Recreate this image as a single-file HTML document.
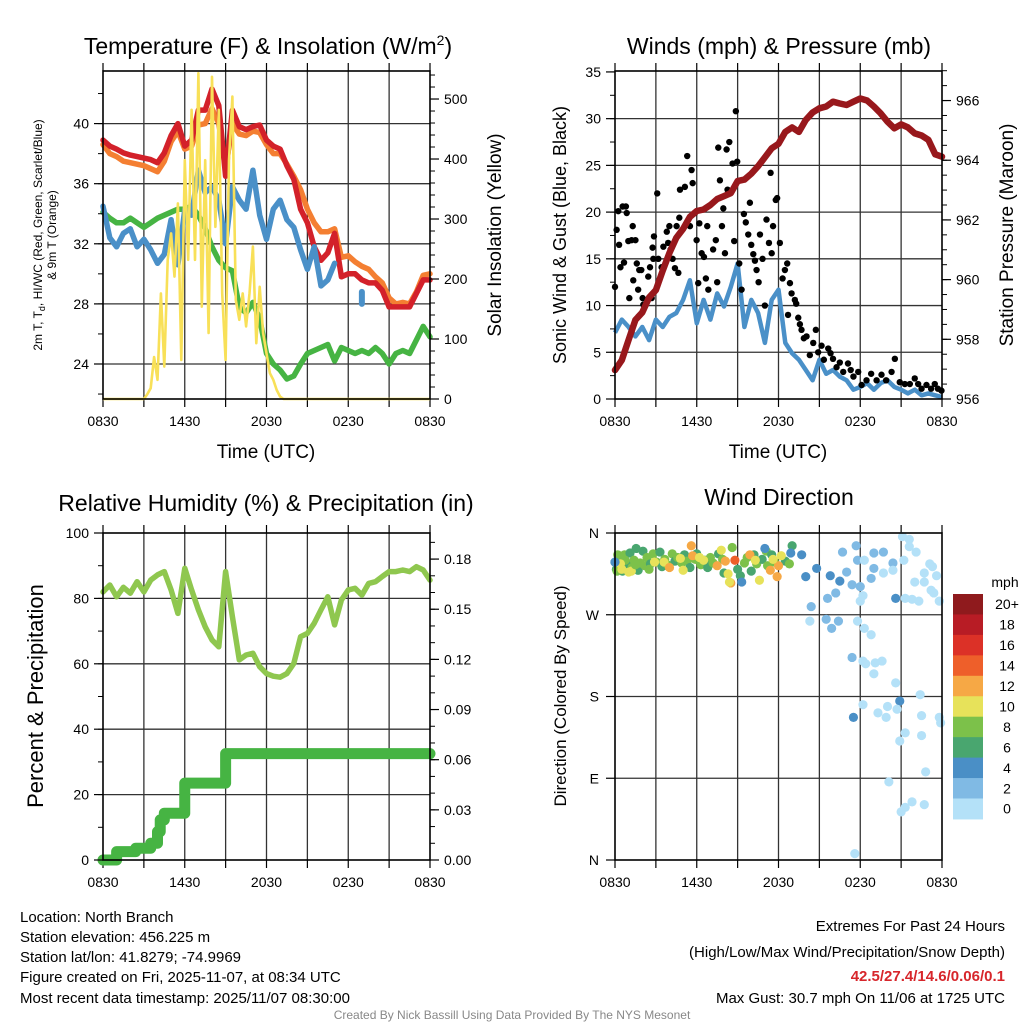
<!DOCTYPE html>
<html><head><meta charset="utf-8">
<style>
html,body{margin:0;padding:0;background:#fff;}
svg{display:block;font-family:"Liberation Sans",sans-serif;}
</style></head>
<body>
<svg id="chart" width="1024" height="1024" viewBox="0 0 1024 1024" xmlns="http://www.w3.org/2000/svg">
<rect width="1024" height="1024" fill="#fff"/>
<g id="layer"></g>
<text x="268" y="54" font-size="23" text-anchor="middle">Temperature (F) &amp; Insolation (W/m<tspan dy="-9" font-size="14">2</tspan><tspan dy="9">)</tspan></text>
<text x="779" y="54" font-size="23" text-anchor="middle">Winds (mph) &amp; Pressure (mb)</text>
<text x="266" y="511" font-size="23" text-anchor="middle">Relative Humidity (%) &amp; Precipitation (in)</text>
<text x="779" y="505" font-size="23" text-anchor="middle">Wind Direction</text>
<text transform="translate(42,235) rotate(-90)" font-size="12" text-anchor="middle">2m T, T<tspan dy="3" font-size="9">d</tspan><tspan dy="-3">, HI/WC (Red, Green, Scarlet/Blue)</tspan></text>
<text transform="translate(56,235) rotate(-90)" font-size="12" text-anchor="middle">&amp; 9m T (Orange)</text>
<text transform="translate(501,235) rotate(-90)" font-size="19" text-anchor="middle">Solar Insolation (Yellow)</text>
<text x="266" y="458" font-size="19" text-anchor="middle">Time (UTC)</text>
<text transform="translate(566,235) rotate(-90)" font-size="18" text-anchor="middle">Sonic Wind &amp; Gust (Blue, Black)</text>
<text transform="translate(1013,235) rotate(-90)" font-size="19" text-anchor="middle">Station Pressure (Maroon)</text>
<text x="778" y="458" font-size="19" text-anchor="middle">Time (UTC)</text>
<text transform="translate(43,696) rotate(-90)" font-size="22" text-anchor="middle">Percent &amp; Precipitation</text>
<text transform="translate(566,696) rotate(-90)" font-size="17" text-anchor="middle">Direction (Colored By Speed)</text>
<text x="1005" y="587" font-size="14" text-anchor="middle">mph</text>
<g font-size="15">
<text x="20" y="922">Location: North Branch</text>
<text x="20" y="942">Station elevation: 456.225 m</text>
<text x="20" y="962">Station lat/lon: 41.8279; -74.9969</text>
<text x="20" y="982">Figure created on Fri, 2025-11-07, at 08:34 UTC</text>
<text x="20" y="1003">Most recent data timestamp: 2025/11/07 08:30:00</text>
</g>
<g font-size="15" text-anchor="end">
<text x="1005" y="931">Extremes For Past 24 Hours</text>
<text x="1005" y="957">(High/Low/Max Wind/Precipitation/Snow Depth)</text>
<text x="1005" y="981" fill="#d7262b" font-weight="bold">42.5/27.4/14.6/0.06/0.1</text>
<text x="1005" y="1003">Max Gust: 30.7 mph On 11/06 at 1725 UTC</text>
</g>
<text x="512" y="1019" font-size="12" fill="#888" text-anchor="middle">Created By Nick Bassill Using Data Provided By The NYS Mesonet</text>
</svg>
<script>
// ---- shared time ticks ----
const timeTickHours = [0,6,12,18,24];
const timeTickLabels = ["0830","1430","2030","0230","0830"];
const halfHours = [0,0.5,1,1.5,2,2.5,3,3.5,4,4.5,5,5.5,6,6.5,7,7.5,8,8.5,9,9.5,10,10.5,11,11.5,12,12.5,13,13.5,14,14.5,15,15.5,16,16.5,17,17.5,18,18.5,19,19.5,20,20.5,21,21.5,22,22.5,23,23.5,24];
// ---- panel 1 ----
const tempTicks = [24,28,32,36,40];
const solarTicks = [0,100,200,300,400,500];
const temp2m = [38.9,38.5,38.3,38.05,37.9,37.8,37.7,37.6,37.4,38.05,39.2,40.0,38.5,38.9,40.9,40.9,42.3,41.2,36.5,40.9,39.8,39.6,39.8,39.9,38.9,38.5,38.3,37.2,36.3,34.3,33.4,31.8,30.9,31.4,32.7,29.8,30.0,30.0,29.6,29.4,29.4,28.9,27.8,27.8,27.8,27.8,28.7,29.6,29.6];
const temp9m = [38.6,38.0,37.8,37.5,37.4,37.3,37.2,37.0,36.8,37.5,38.8,39.5,38.3,38.5,39.9,40.0,41.0,40.0,37.0,40.0,39.3,39.2,39.5,39.4,38.6,38.0,38.0,37.3,36.5,35.6,34.3,33.4,32.8,32.8,33.0,31.1,31.2,30.8,30.5,30.3,29.8,29.4,28.4,28.0,28.1,28.0,28.8,29.9,30.0];
const windChill = [34.5,32.4,31.8,32.7,33.0,31.8,32.3,31.6,30.7,31.3,33.6,30.6,34.3,33.9,36.9,35.4,35.8,34.9,32.0,35.8,34.9,34.3,36.9,33.9,32.3,34.3,34.9,33.6,33.1,31.6,30.3,31.8,29.2,29.6,30.7,null,null,null,28.4,null,null,null,null,null,null,null,null,null,null];
const dewPoint = [34.1,33.7,33.4,33.4,33.7,33.4,33.1,33.4,33.7,33.9,34.1,34.3,34.3,34.5,33.9,33.0,31.8,30.9,30.4,30.2,27.8,27.4,28.1,27.0,24.7,24.0,23.6,23.0,23.2,24.0,24.7,24.9,25.1,25.3,24.2,25.1,24.9,24.7,24.9,24.7,25.1,24.7,24.0,24.7,24.9,24.7,25.6,26.5,25.8];
const solar = [0,0,0,0,0,0,0,0,0,0,0,0,0,
 8,18,70,32,176,54,232,276,204,326,65,398,232,482,232,543,154,398,110,537,287,482,176,65,398,504,165,132,176,121,176,254,93,187,110,76,43,32,15,4,
 0,0,0,0,0,0,0,0,0,0,0,0,0,0,0,0,0,0,0,0,0,0,0,0,0,0,0,0,0,0,0,0,0,0,0,0,0,0,0,0,0,0,0,0];
// ---- panel 2 ----
const windTicks = [0,5,10,15,20,25,30,35];
const pressureTicks = [956,958,960,962,964,966];
const pressure = [956.97,957.3,957.98,958.65,958.9,959.4,959.65,960.3,960.9,961.4,961.7,962.1,962.3,962.35,962.5,962.7,962.8,962.9,963.3,963.35,963.55,963.8,964.1,964.4,964.55,964.95,965.1,964.95,965.35,965.6,965.74,965.8,965.96,965.9,965.85,965.96,966.07,966.0,965.8,965.57,965.29,965.07,965.2,965.1,964.9,964.83,964.68,964.2,964.12];
const sonicWind = [7.1,8.5,7.7,6.7,7.7,6.3,8.5,7.7,8.8,9.2,10.6,12.7,8.1,10.6,8.5,11.3,9.9,12.0,14.5,7.7,10.6,9.2,6.0,10.6,11.7,6.0,4.9,4.2,3.1,2.0,4.2,2.7,3.1,2.4,2.0,1.0,1.3,1.7,1.0,1.7,2.0,1.3,1.0,0.6,1.0,0.4,0.6,0.4,0.2];
const gustHours = [0,0.12,0.24,0.3,0.4,0.56,0.66,0.8,0.86,0.98,1.05,1.22,1.3,1.34,1.5,1.6,1.7,1.78,1.93,2.03,2.08,2.44,2.57,2.69,2.76,2.81,2.86,3.1,3.18,3.42,3.55,3.8,3.9,3.99,4.08,4.23,4.4,4.52,4.65,4.72,4.77,5.13,5.3,5.5,5.62,5.7,5.87,5.99,6.11,6.19,6.36,6.53,6.67,6.77,6.85,7.2,7.4,7.5,7.58,7.7,7.85,7.95,8.07,8.19,8.26,8.39,8.63,8.75,8.87,8.97,9.12,9.29,9.46,9.6,9.78,9.9,10.0,10.15,10.27,10.39,10.54,10.64,10.83,11.0,11.12,11.3,11.42,11.5,11.6,11.8,11.9,12.1,12.3,12.47,12.64,12.84,12.96,13.2,13.3,12.7,13.45,13.57,13.69,13.86,14.06,14.3,14.55,14.74,14.91,15.16,15.33,15.65,15.82,16.0,16.26,16.5,16.75,17.1,17.3,17.5,17.85,18.1,18.46,18.8,19.2,19.56,19.9,20.3,20.54,20.9,21.27,21.64,22.0,22.25,22.5,22.86,23.2,23.47,23.7,23.96];
const gustValues = [12.0,18.1,20.1,16.5,14.1,20.6,14.6,20.6,19.9,16.9,10.8,17.0,18.5,12.7,17.0,14.5,11.7,13.8,13.8,10.8,10.1,13.1,14.1,10.8,16.2,15.0,17.4,22.0,15.0,14.1,16.3,17.9,16.7,18.5,16.0,15.0,14.0,18.5,13.5,19.4,22.4,22.7,26.0,18.5,24.5,23.1,19.9,17.0,12.4,18.8,15.6,15.2,12.9,18.5,11.7,16.0,17.0,12.5,26.9,23.4,18.5,20.4,15.6,26.7,22.4,27.5,25.2,16.9,30.8,25.4,14.5,11.7,19.8,18.9,17.6,21.0,16.5,15.5,14.8,13.8,12.5,17.6,15.0,10.0,19.2,16.7,24.2,15.6,18.5,21.3,21.5,16.7,12.9,13.8,14.5,12.4,11.3,10.6,10.2,9.0,8.7,8.0,7.4,6.5,6.7,4.7,6.0,7.4,5.0,5.7,4.2,5.4,4.9,4.3,3.4,3.9,2.9,3.8,3.1,2.4,2.9,1.5,2.0,2.7,2.0,2.6,2.0,2.9,4.3,1.8,1.6,1.6,2.2,1.6,1.1,1.5,1.1,1.6,1.1,0.9];
// ---- panel 3 ----
const rhTicks = [0,20,40,60,80,100];
const precipTicks = [0,0.03,0.06,0.09,0.12,0.15,0.18];
const precipTickLabels = ["0.00","0.03","0.06","0.09","0.12","0.15","0.18"];
const relHumidity = [82.0,84.1,80.5,83.4,81.6,85.1,82.0,85.6,87.2,88.2,82.6,75.4,89.2,82.6,76.5,71.3,67.3,65.2,88.2,74.4,61.2,62.7,63.2,59.1,57.0,56.2,55.9,57.0,60.1,68.3,69.3,72.4,76.5,80.5,71.9,79.5,82.6,83.1,81.0,84.6,85.1,86.7,88.2,88.2,88.7,88.2,89.7,88.7,85.6];
const precipHours = [0,1.0,2.4,3.5,4.0,4.2,4.5,6.0,9.0,24];
const precipValues = [0,0.005,0.007,0.01,0.017,0.024,0.028,0.046,0.0636,0.0636];
// ---- panel 4 ----
const dirTicks = [0,90,180,270,360];
const dirTickLabels = ["N","E","S","W","N"];
const speedBinLabels = ["0","2","4","6","8","10","12","14","16","18","20+"];
const speedBinColors = ["#b4e1f8","#80bae4","#4a8fc6","#49a66f","#7cc14a","#e7e25a","#f6a845","#ee5f2a","#dc3127","#b81c25","#8f1a1d"];
const dirHours = [0.1,0.2,0.35,0.55,0.7,0.85,1.1,1.25,1.4,1.55,1.7,1.85,2.05,2.2,2.35,2.6,2.8,3.05,3.3,3.45,3.65,3.85,4.2,4.4,4.6,4.9,5.1,5.3,5.5,5.9,6.0,6.3,6.6,6.8,7.0,7.2,7.6,7.9,8.0,8.6,9.0,9.2,9.5,9.7,10.0,10.2,10.4,10.8,11.1,11.2,11.5,11.7,12.5,12.8,13.0,
 0.0,0.15,0.5,0.75,1.2,1.5,2.5,2.9,3.6,4.0,
 5.6,5.7,7.5,8.1,8.5,9.9,11.4,11.9,12.0,8.8,
 4.8,5.0,6.2,6.5,7.8,8.3,8.4,10.3,10.6,11.6,12.2,0.4,1.0,
 0.0,9.3,11.0,12.9,13.7,14.0,14.8,15.8,16.5,17.5,20.6,20.9,
 14.4,15.5,15.9,16.4,17.4,16.7,17.0,17.7,17.8,18.0,19.0,19.7,18.8,20.4,19.0,17.4,16.2,15.6,
 14.3,17.8,18.3,18.8,18.2,18.4,19.1,19.6,19.0,20.6,18.2,19.3,20.0,19.9,20.7,22.4,22.5,21.3,20.9,22.5,23.8,23.9,22.8,20.1,21.8,21.3,21.0,22.7,17.6,21.1,21.6,21.6,22.1,21.2,18.3,19.7,20.4,22.7,23.1,23.3,23.6,23.2,23.4,22.0,22.7,21.3,21.8,22.3,23.8,18.2,18.0];
const dirValues = [320,336,331,318,336,326,338,322,330,343,319,327,340,324,333,326,337,328,339,323,331,325,337,329,333,327,336,329,322,331,337,325,330,322,333,327,337,331,316,344,320,313,327,333,318,336,326,331,340,324,336,328,329,326,346,
 328,318,320,330,318,325,320,328,328,322,
 346,335,324,329,305,336,319,312,324,330,
 332,319,333,330,341,315,306,330,308,331,335,326,317,
 328,306,343,338,336,312,321,313,307,157,288,175,
 279,265,255,263,223,339,317,346,330,301,338,339,310,327,321,303,294,288,
 263,263,255,248,219,216,217,219,205,195,171,162,169,157,166,182,159,140,131,137,157,151,97,86,64,58,53,61,7,356,353,345,339,330,330,316,319,316,326,323,313,297,294,306,306,288,287,285,285,291,285];
const dirSpeeds = [7,9,9,7,9,7,7,9,9,7,7,9,7,9,9,7,9,9,7,7,9,9,9,7,9,9,7,9,7,9,7,9,7,7,9,9,7,9,7,9,7,7,9,9,7,7,9,7,9,9,7,9,7,9,7,
 7,8,10,9,11,8,9,10,11,12,
 13,13,13,13,13,13,13,13,13,15,
 11,11,11,11,11,11,11,11,11,11,11,11,11,
 5,5,5,5,5,5,5,5,5,5,5,5,
 3,3,3,3,3,3,3,3,3,3,3,3,3,3,3,3,3,3,
 1,1,1,1,1,1,1,1,1,1,1,1,1,1,1,1,1,1,1,1,1,1,1,1,1,1,1,1,1,1,1,1,1,1,1,1,1,1,1,1,1,1,1,1,1,1,1,1,1,1,1];

const NS='http://www.w3.org/2000/svg';
const layer=document.getElementById('layer');
function mk(tag,attrs,parent){const e=document.createElementNS(NS,tag);for(const k in attrs)e.setAttribute(k,attrs[k]);(parent||layer).appendChild(e);return e;}
function lin(d0,d1,r0,r1){return v=>r0+(v-d0)/(d1-d0)*(r1-r0);}

const P1={l:103,r:430,t:71,b:399}, P2={l:615,r:942,t:71,b:399}, P3={l:103,r:430,t:533,b:860}, P4={l:615,r:942,t:533,b:860};

function frame(P,name){
  const g=mk('g',{});
  
  
  const xs=lin(0,24,P.l,P.r);
  for(let h=3;h<24;h+=3){
    const gl=mk('line',{x1:xs(h),x2:xs(h),y1:P.t,y2:P.b,stroke:'#333','stroke-width':1.3},g);
    
    
  }
  for(let h=0;h<=24;h+=3){
    mk('line',{x1:xs(h),x2:xs(h),y1:P.b,y2:P.b+8,stroke:'#000','stroke-width':1.2},g);
    mk('line',{x1:xs(h),x2:xs(h),y1:P.t,y2:P.t-8,stroke:'#000','stroke-width':1.2},g);
  }
  timeTickHours.forEach((h,i)=>{
    const t=mk('text',{x:xs(h),y:P.b+27,'font-size':14,'text-anchor':'middle'},g);
    
    
    t.textContent=timeTickLabels[i];
  });
  return {g,xs};
}
function hgrid(g,P,y,name){const l=mk('line',{x1:P.l,x2:P.r,y1:y,y2:y,stroke:'#333','stroke-width':1.3},g);
  
  }
function border(P){mk('rect',{x:P.l,y:P.t,width:P.r-P.l,height:P.b-P.t,fill:'none',stroke:'#000','stroke-width':1.6});}
function yTicks(P,side,scale,major,minorStep,lo,hi,labels,name){
  const x0= side==='l'?P.l:P.r, dir= side==='l'?-1:1;
  for(let v=lo;v<=hi+1e-9;v+=minorStep){const y=scale(v); if(y<P.t-0.5||y>P.b+0.5)continue; mk('line',{x1:x0,x2:x0+dir*5,y1:y,y2:y,stroke:'#000','stroke-width':1});}
  major.forEach((v,i)=>{const y=scale(v);
    mk('line',{x1:x0,x2:x0+dir*9,y1:y,y2:y,stroke:'#000','stroke-width':1.2});
    const t=mk('text',{x:x0+dir*14,y:y+5,'font-size':14,'text-anchor':side==='l'?'end':'start'});
    
    
    t.textContent=labels?labels[i]:String(v);});
}
function pathFrom(xsArr,ysArr){let d='',pen=false;for(let i=0;i<xsArr.length;i++){if(ysArr[i]==null){pen=false;continue;}d+=(pen?'L':'M')+xsArr[i].toFixed(1)+' '+ysArr[i].toFixed(1);pen=true;}return d;}

// ---------- Panel 1 ----------
{
  const {g,xs}=frame(P1,'temperature');
  const yT=lin(21.67,43.5,P1.b,P1.t), yS=lin(0,546.7,P1.b,P1.t);
  tempTicks.forEach(v=>hgrid(g,P1,yT(v),'temperature'));
  const line=(arr,color,w,name)=>{
    const ys=arr.map(v=>v==null?null:yT(v));
    const p=mk('path',{d:pathFrom(halfHours.map(xs),ys),fill:'none',stroke:color,'stroke-width':w,'stroke-linejoin':'round','stroke-linecap':'round'});
    
    
    return ys;
  };
  line(temp9m,'#f47f32',5.5,'temp-9m-line');
  line(temp2m,'#d3212a',5.5,'temp-2m-line');
  line(dewPoint,'#46b443',5.5,'dewpoint-line');
  const wy=line(windChill,'#4a90c8',5.5,'wind-chill-line');
  wy.forEach((y,i)=>{ if(y!=null && windChill[i-1]==null && windChill[i+1]==null){
    const c=mk('rect',{x:xs(halfHours[i])-3,y:y-9,width:6,height:18,rx:3,fill:'#4a90c8'});
    
    
  }});
  const sh=solar.map((v,i)=>xs(i*0.25));
  const sp=mk('path',{d:pathFrom(sh,solar.map(yS)),fill:'none',stroke:'#f8e058','stroke-width':2.6,'stroke-linejoin':'round'});
  
  
  border(P1);
  yTicks(P1,'l',yT,tempTicks,2,22,43,null,'temperature-y');
  yTicks(P1,'r',yS,solarTicks,20,0,540,null,'insolation-y');
}
// ---------- Panel 2 ----------
{
  const {g,xs}=frame(P2,'winds');
  const yW=lin(0,35.1,P2.b,P2.t), yP=lin(956,966.99,P2.b,P2.t);
  windTicks.forEach(v=>{ if(v>0&&v<35) hgrid(g,P2,yW(v),'winds');});
  const wp=mk('path',{d:pathFrom(halfHours.map(xs),sonicWind.map(yW)),fill:'none',stroke:'#4a90c8','stroke-width':4.5,'stroke-linejoin':'round'});
  
  
  gustHours.forEach((h,i)=>{
    const c=mk('circle',{cx:xs(h),cy:yW(gustValues[i]),r:3.2,fill:'#000'});
    
    
  });
  const pp=mk('path',{d:pathFrom(halfHours.map(xs),pressure.map(yP)),fill:'none',stroke:'#98181c','stroke-width':6.5,'stroke-linejoin':'round','stroke-linecap':'round'});
  
  
  border(P2);
  yTicks(P2,'l',yW,windTicks,2.5,0,35,null,'wind-y');
  yTicks(P2,'r',yP,pressureTicks,0.5,956,967,null,'pressure-y');
}
// ---------- Panel 3 ----------
{
  const {g,xs}=frame(P3,'humidity');
  const yR=lin(0,100,P3.b,P3.t), yPr=lin(0,0.1956,P3.b,P3.t);
  rhTicks.forEach(v=>{ if(v>0&&v<100) hgrid(g,P3,yR(v),'humidity');});
  let d='';
  precipHours.forEach((h,i)=>{const x=xs(h),y=yPr(precipValues[i]); if(i===0)d+='M'+x+' '+y; else d+='L'+x+' '+yPr(precipValues[i-1])+'L'+x+' '+y;});
  const pr=mk('path',{d:d,fill:'none',stroke:'#46b443','stroke-width':11,'stroke-linejoin':'round','stroke-linecap':'round'});
  
  
  const rp=mk('path',{d:pathFrom(halfHours.map(xs),relHumidity.map(yR)),fill:'none',stroke:'#8fc74f','stroke-width':5.5,'stroke-linejoin':'round','stroke-linecap':'round'});
  
  
  border(P3);
  yTicks(P3,'l',yR,rhTicks,10,0,100,null,'humidity-y');
  yTicks(P3,'r',yPr,precipTicks,0.01,0,0.19,precipTickLabels,'precip-y');
}
// ---------- Panel 4 ----------
{
  const {g,xs}=frame(P4,'direction');
  const yD=lin(0,360,P4.b,P4.t);
  dirTicks.forEach(v=>{ if(v>0&&v<360) hgrid(g,P4,yD(v),'direction');});
  dirHours.forEach((h,i)=>{
    const bin=Math.min(10,Math.floor(dirSpeeds[i]/2));
    const c=mk('circle',{cx:xs(h),cy:yD(dirValues[i]),r:4.6,fill:speedBinColors[bin]});
    
    
  });
  border(P4);
  dirTicks.forEach((v,i)=>{const y=yD(v);
    mk('line',{x1:P4.l,x2:P4.l-9,y1:y,y2:y,stroke:'#000','stroke-width':1.2});
    const t=mk('text',{x:P4.l-16,y:y+5,'font-size':14,'text-anchor':'end'});
    
    
    t.textContent=dirTickLabels[i];});
  // colorbar
  const cbTop=594, cbH=20.45, cbX=953, cbW=30;
  for(let k=0;k<11;k++){
    const bin=10-k, y=cbTop+k*cbH;
    const r=mk('rect',{x:cbX,y:y,width:cbW,height:cbH+0.5,fill:speedBinColors[bin]});
    
    
    const t=mk('text',{x:1007,y:y+cbH/2+5,'font-size':14,'text-anchor':'middle'});
    
    
    t.textContent=speedBinLabels[bin];
  }
}
</script>
</body></html>
